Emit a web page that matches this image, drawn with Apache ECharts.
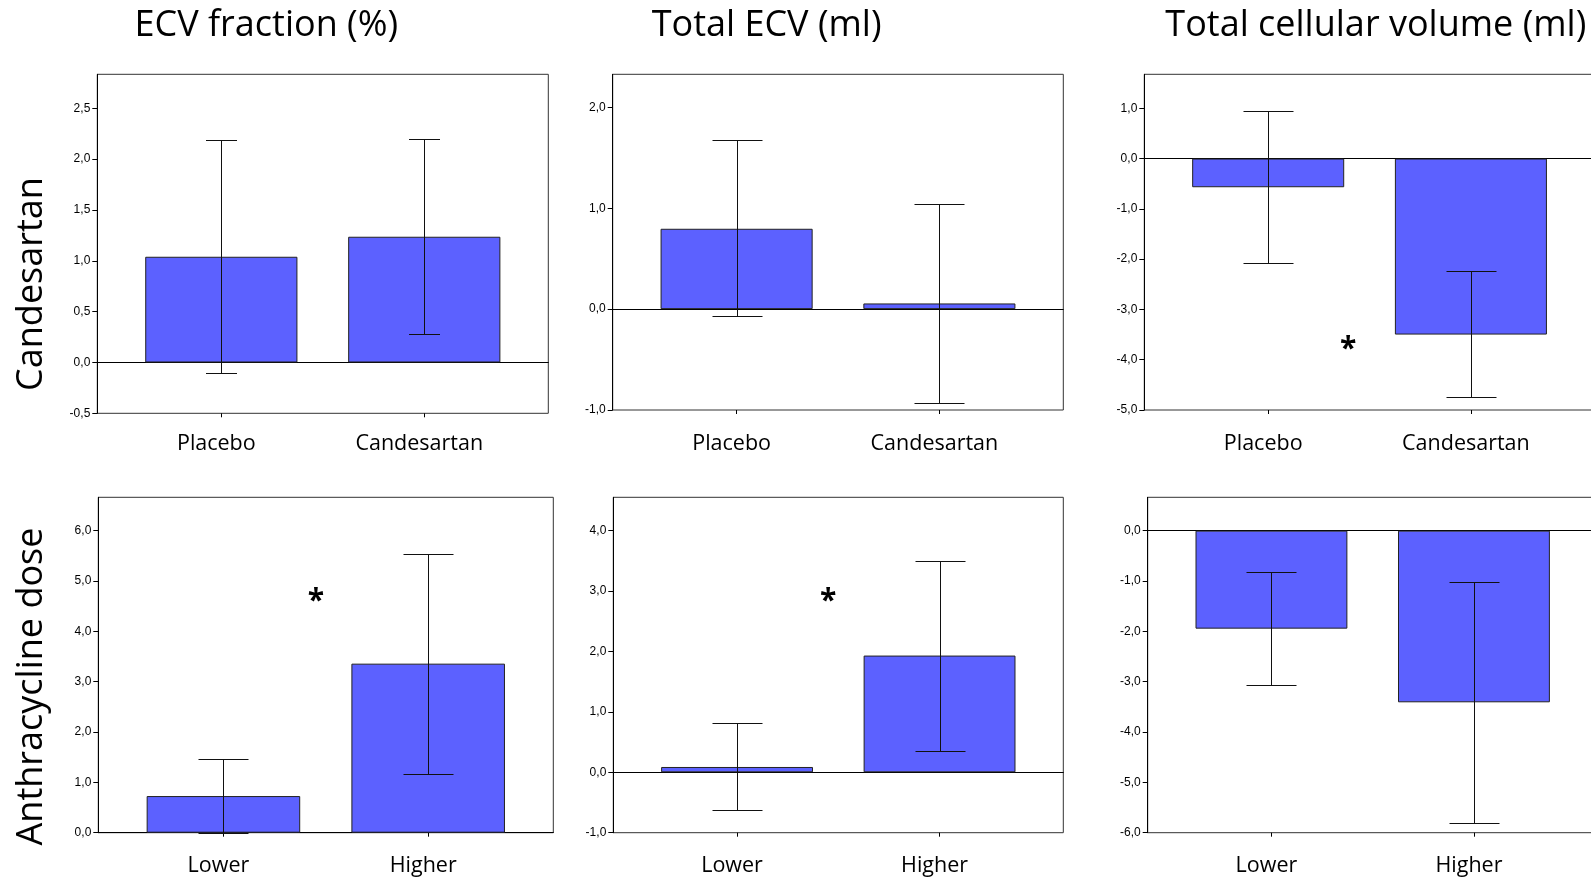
<!DOCTYPE html>
<html><head><meta charset="utf-8">
<script src="https://cdn.jsdelivr.net/npm/echarts@6/dist/echarts.min.js"></script>
<style>html,body{margin:0;padding:0;background:#fff;overflow:hidden}#c{width:1591px;height:881px}</style>
</head><body><div id="c"></div>
<script>
// ---------- text ----------
const columnTitles = ['ECV fraction (%)', 'Total ECV (ml)', 'Total cellular volume (ml)'];
const rowTitles = ['Candesartan', 'Anthracycline dose'];
const candesartanGroups = ['Placebo', 'Candesartan'];
const doseGroups = ['Lower', 'Higher'];

// ---------- values (mean change, lower / upper error bar) ----------
const ecvFractionCandMean = [1.04, 1.237];
const ecvFractionCandLow  = [-0.10, 0.276];
const ecvFractionCandHigh = [2.19, 2.195];

const totalEcvCandMean = [0.796, 0.056];
const totalEcvCandLow  = [-0.073, -0.928];
const totalEcvCandHigh = [1.672, 1.04];

const cellVolCandMean = [-0.57, -3.50];
const cellVolCandLow  = [-2.07, -4.74];
const cellVolCandHigh = [0.94, -2.245];

const ecvFractionDoseMean = [0.728, 3.358];
const ecvFractionDoseLow  = [0.0, 1.172];
const ecvFractionDoseHigh = [1.457, 5.543];

const totalEcvDoseMean = [0.088, 1.932];
const totalEcvDoseLow  = [-0.629, 0.359];
const totalEcvDoseHigh = [0.811, 3.499];

const cellVolDoseMean = [-1.947, -3.41];
const cellVolDoseLow  = [-3.066, -5.801];
const cellVolDoseHigh = [-0.821, -1.013];

// ---------- axis ranges and tick labels ----------
const ecvFractionCandRange = [-0.5, 2.835];
const ecvFractionCandTicks = [-0.5, 0, 0.5, 1, 1.5, 2, 2.5];
const totalEcvCandRange = [-1, 2.327];
const totalEcvCandTicks = [-1, 0, 1, 2];
const cellVolCandRange = [-5, 1.676];
const cellVolCandTicks = [-5, -4, -3, -2, -1, 0, 1];
const ecvFractionDoseRange = [0, 6.662];
const ecvFractionDoseTicks = [0, 1, 2, 3, 4, 5, 6];
const totalEcvDoseRange = [-1, 4.552];
const totalEcvDoseTicks = [-1, 0, 1, 2, 3, 4];
const cellVolDoseRange = [-6, 0.662];
const cellVolDoseTicks = [-6, -5, -4, -3, -2, -1, 0];

// ---------- significance marks: [position between the two groups (0..1), value] ----------
const cellVolCandStar = [0.394, -3.68];
const ecvFractionDoseStar = [0.452, 4.72];
const totalEcvDoseStar = [0.45, 2.93];

// ---------- panels built from the arrays ----------
const panels = [
  {cats: candesartanGroups, mean: ecvFractionCandMean, low: ecvFractionCandLow, high: ecvFractionCandHigh, range: ecvFractionCandRange, ticks: ecvFractionCandTicks, star: null},
  {cats: candesartanGroups, mean: totalEcvCandMean, low: totalEcvCandLow, high: totalEcvCandHigh, range: totalEcvCandRange, ticks: totalEcvCandTicks, star: null},
  {cats: candesartanGroups, mean: cellVolCandMean, low: cellVolCandLow, high: cellVolCandHigh, range: cellVolCandRange, ticks: cellVolCandTicks, star: cellVolCandStar},
  {cats: doseGroups, mean: ecvFractionDoseMean, low: ecvFractionDoseLow, high: ecvFractionDoseHigh, range: ecvFractionDoseRange, ticks: ecvFractionDoseTicks, star: ecvFractionDoseStar},
  {cats: doseGroups, mean: totalEcvDoseMean, low: totalEcvDoseLow, high: totalEcvDoseHigh, range: totalEcvDoseRange, ticks: totalEcvDoseTicks, star: totalEcvDoseStar},
  {cats: doseGroups, mean: cellVolDoseMean, low: cellVolDoseLow, high: cellVolDoseHigh, range: cellVolDoseRange, ticks: cellVolDoseTicks, star: null}
];

// ---------- layout / style ----------
const layout = [
  {left: 97.3,  top: 74.3,  width: 451,   height: 339,   cap: 31, labelMargin: 20},
  {left: 612.7, top: 74.3,  width: 450.6, height: 335.7, cap: 50, labelMargin: 23},
  {left: 1144.3,top: 74.3,  width: 450.5, height: 335.7, cap: 50, labelMargin: 23},
  {left: 98.3,  top: 497.3, width: 455,   height: 335.4, cap: 50, labelMargin: 22},
  {left: 613.3, top: 497.3, width: 450,   height: 335.4, cap: 50, labelMargin: 22},
  {left: 1147.7,top: 497.3, width: 450,   height: 335.4, cap: 50, labelMargin: 22}
];
const titlePos = [[266.3, 25.7], [766.6, 25.7], [1375.8, 25.7]];
const rowTitlePos = [[31.7, 284], [31.7, 686.5]];
const BAR_COLOR = '#5c61ff';
const fmt = v => v.toFixed(1).replace('.', ',');
const crisp = v => Math.round(v) + 0.5;

const grid = [], xAxis = [], yAxis = [], series = [];
panels.forEach((p, i) => {
  const L = layout[i];
  const inset = L.width * 0.05;
  // box grid
  grid.push({left: L.left, top: L.top, width: L.width, height: L.height, show: true,
    borderColor: '#333', borderWidth: 1, backgroundColor: 'transparent', containLabel: false, outerBoundsMode: 'none'});
  // bar grid
  grid.push({left: L.left + inset, top: L.top, width: L.width - 2 * inset, height: L.height,
    show: false, containLabel: false, outerBoundsMode: 'none'});
  const gBox = 2 * i, gBar = 2 * i + 1;
  xAxis.push({gridIndex: gBox, type: 'value', min: 0, max: 1,
    axisLine: {show: true, onZero: true, lineStyle: {color: '#000', width: 1}},
    axisTick: {show: false}, axisLabel: {show: false}, splitLine: {show: false}});
  yAxis.push({gridIndex: gBox, type: 'value', min: p.range[0], max: p.range[1],
    axisLine: {show: true, onZero: false, lineStyle: {color: '#000', width: 1}},
    axisTick: {show: true, length: 5, customValues: p.ticks, lineStyle: {color: '#000'}},
    axisLabel: {show: true, customValues: p.ticks, formatter: fmt, margin: 7,
      fontFamily: '"Liberation Sans", Arial, sans-serif', fontSize: 12, color: '#000'},
    splitLine: {show: false}});
  xAxis.push({gridIndex: gBar, type: 'category', data: p.cats, boundaryGap: true,
    axisLine: {show: false, onZero: false},
    axisTick: {show: true, alignWithLabel: true, length: 4, lineStyle: {color: '#000'}},
    axisLabel: {show: true, margin: L.labelMargin, fontFamily: '"Open Sans", sans-serif', fontSize: 21.5,
      color: '#000', padding: [0, 10, 0, 0]},
    splitLine: {show: false}});
  yAxis.push({gridIndex: gBar, type: 'value', min: p.range[0], max: p.range[1], show: false});

  series.push({type: 'bar', xAxisIndex: gBar, yAxisIndex: gBar, data: p.mean, barWidth: '75%',
    itemStyle: {color: BAR_COLOR, borderColor: '#222', borderWidth: 1}, z: 2, silent: true});

  const cap = L.cap;
  series.push({type: 'custom', xAxisIndex: gBar, yAxisIndex: gBar, z: 5, silent: true,
    encode: {x: 0, y: [1, 2]},
    data: p.mean.map((m, k) => [k, p.low[k], p.high[k]]),
    renderItem: (params, api) => {
      const k = api.value(0);
      const a = api.coord([k, api.value(1)]);
      const b = api.coord([k, api.value(2)]);
      const x = crisp(a[0]), y1 = crisp(a[1]), y2 = crisp(b[1]);
      const hw = cap / 2;
      const st = {stroke: '#111', lineWidth: 1};
      return {type: 'group', children: [
        {type: 'line', shape: {x1: x, y1: y1, x2: x, y2: y2}, style: st},
        {type: 'line', shape: {x1: x - hw, y1: y2, x2: x + hw, y2: y2}, style: st},
        {type: 'line', shape: {x1: x - hw, y1: y1, x2: x + hw, y2: y1}, style: st}
      ]};
    }});

  if (p.star) {
    series.push({type: 'custom', xAxisIndex: gBar, yAxisIndex: gBar, z: 6, silent: true,
      encode: {x: 0, y: 1},
      data: [[0, p.star[1], p.star[0]]],
      renderItem: (params, api) => {
        const v = api.value(1), t = api.value(2);
        const a = api.coord([0, v]), b = api.coord([1, v]);
        return {type: 'text', x: a[0] + t * (b[0] - a[0]), y: a[1] + 6,
          style: {text: '*', font: 'bold 30px "Open Sans", sans-serif', fill: '#000',
            align: 'center', verticalAlign: 'middle'}};
      }});
  }
});

const graphic = [];
columnTitles.forEach((t, i) => graphic.push({type: 'text', x: titlePos[i][0], y: titlePos[i][1], silent: true,
  style: {text: t, font: '36px "Open Sans", sans-serif', fill: '#000', align: 'center', verticalAlign: 'middle'}}));
rowTitles.forEach((t, i) => graphic.push({type: 'text', x: rowTitlePos[i][0], y: rowTitlePos[i][1], rotation: Math.PI / 2, silent: true,
  style: {text: t, font: '36px "Open Sans", sans-serif', fill: '#000', align: 'center', verticalAlign: 'middle'}}));

const chart = echarts.init(document.getElementById('c'), null, {renderer: 'canvas'});
chart.setOption({animation: false, backgroundColor: '#fff', grid, xAxis, yAxis, series, graphic});
</script></body></html>
